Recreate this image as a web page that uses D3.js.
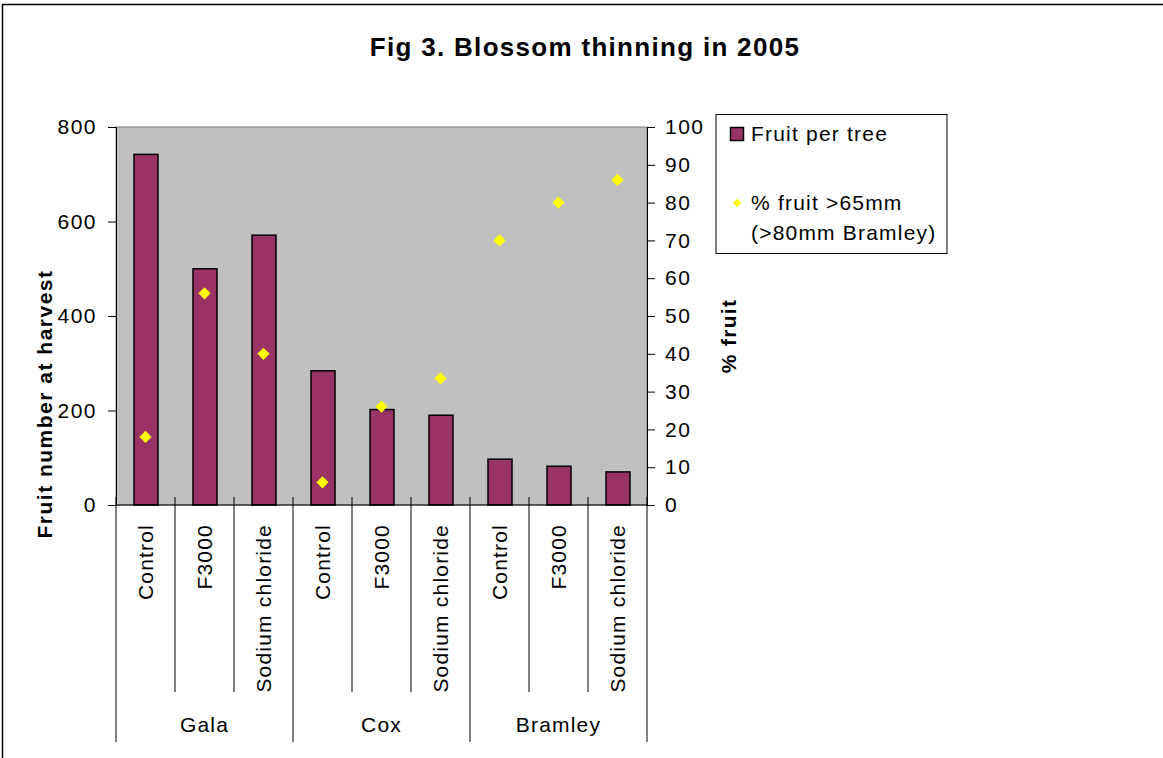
<!DOCTYPE html>
<html><head><meta charset="utf-8">
<script src="https://cdn.jsdelivr.net/npm/d3@7"></script>
<style>body{margin:0;background:#fff;}svg{display:block;font-family:"Liberation Sans",Arial,sans-serif;}</style>
</head><body>
<script>
const groups = ["Gala","Cox","Bramley"];
const treatments = ["Control","F3000","Sodium chloride"];
const fruitPerTree = [742, 500, 571, 284, 202, 190, 97, 82, 70];
const pctLarge = [18, 56, 40, 6, 26, 33.5, 70, 80, 86];
const leftTicks = [0,200,400,600,800];
const rightTicks = [0,10,20,30,40,50,60,70,80,90,100];

const W=1163,H=758;
const FS=21, LS=1.2;
const svg=d3.select("body").append("svg").attr("width",W).attr("height",H);
svg.append("rect").attr("x",2.5).attr("y",4.5).attr("width",W+10).attr("height",H+10).attr("fill","#fff").attr("stroke","#000").attr("stroke-width",1.5);

const L=116,R=647,T=127,B=505;
const cats=[];groups.forEach(g=>treatments.forEach(t=>cats.push(g+"|"+t)));
const x=d3.scaleBand().domain(cats).range([L,R]);
const y=d3.scaleLinear().domain([0,800]).range([B,T]);
const y2=d3.scaleLinear().domain([0,100]).range([B,T]);

svg.append("rect").attr("x",L).attr("y",T).attr("width",R-L).attr("height",B-T).attr("fill","#c0c0c0").attr("stroke","#808080").attr("stroke-width",1);

// bars
const bw=24;
svg.selectAll("rect.bar").data(fruitPerTree).enter().append("rect").attr("class","bar")
 .attr("x",(d,i)=>x(cats[i])+x.bandwidth()/2-bw/2+0.5).attr("y",d=>y(d))
 .attr("width",bw).attr("height",d=>B-y(d)).attr("fill","#993366").attr("stroke","#000").attr("stroke-width",1.5);

// left axis
const ga=svg.append("g").attr("transform",`translate(${L},0)`).call(d3.axisLeft(y).tickValues(leftTicks).tickSize(8).tickPadding(11));
ga.select(".domain").attr("stroke","#000");
ga.selectAll("text").attr("font-size",FS).attr("letter-spacing",1.5).attr("fill","#000").attr("font-family","Liberation Sans, Arial, sans-serif");
// right axis
const gb=svg.append("g").attr("transform",`translate(${R},0)`).call(d3.axisRight(y2).tickValues(rightTicks).tickSize(8).tickPadding(10));
gb.select(".domain").attr("stroke","#000");
gb.selectAll("text").attr("font-size",FS).attr("letter-spacing",1.5).attr("fill","#000").attr("font-family","Liberation Sans, Arial, sans-serif");

// baseline
svg.append("line").attr("x1",L).attr("x2",R).attr("y1",B).attr("y2",B).attr("stroke","#000");

// category separators
cats.forEach((c,i)=>{
  const xx=x(c);
  const isGroup=i%3===0;
  svg.append("line").attr("x1",xx).attr("x2",xx).attr("y1",B-8).attr("y2",isGroup?742:692).attr("stroke","#000");
});
svg.append("line").attr("x1",R).attr("x2",R).attr("y1",B-8).attr("y2",742).attr("stroke","#000");

// category labels
cats.forEach((c,i)=>{
  const cx=x(c)+x.bandwidth()/2;
  svg.append("text").attr("transform",`translate(${cx+7.5},524) rotate(-90)`).attr("text-anchor","end")
   .attr("font-size",FS).attr("letter-spacing",LS).text(treatments[i%3]);
});
groups.forEach((g,gi)=>{
  const x0=x(cats[gi*3]), x1=x(cats[gi*3+2])+x.bandwidth();
  svg.append("text").attr("x",(x0+x1)/2).attr("y",732).attr("text-anchor","middle").attr("font-size",FS).attr("letter-spacing",LS).text(g);
});

// diamonds
const dia=d3.symbol().type(d3.symbolDiamond2).size(95);
svg.selectAll("path.pt").data(pctLarge).enter().append("path").attr("class","pt")
 .attr("d",dia).attr("transform",(d,i)=>`translate(${x(cats[i])+x.bandwidth()/2},${y2(d)})`).attr("fill","#ffff00");

// titles
svg.append("text").attr("x",585).attr("y",56).attr("text-anchor","middle").attr("font-size",26).attr("letter-spacing",1.3).attr("font-weight","bold").text("Fig 3. Blossom thinning in 2005");
svg.append("text").attr("transform",`translate(52,404) rotate(-90)`).attr("text-anchor","middle").attr("font-size",FS).attr("letter-spacing",1.5).attr("font-weight","bold").text("Fruit number at harvest");
svg.append("text").attr("transform",`translate(736,336) rotate(-90)`).attr("text-anchor","middle").attr("font-size",FS).attr("letter-spacing",1.3).attr("font-weight","bold").text("% fruit");

// legend
svg.append("rect").attr("x",716).attr("y",114.5).attr("width",231).attr("height",139).attr("fill","#fff").attr("stroke","#000");
svg.append("rect").attr("x",730.5).attr("y",127.5).attr("width",13).attr("height",13).attr("fill","#993366").attr("stroke","#000").attr("stroke-width",1.5);
svg.append("text").attr("x",751).attr("y",141).attr("font-size",FS).attr("letter-spacing",LS).text("Fruit per tree");
svg.append("path").attr("d",d3.symbol().type(d3.symbolDiamond2).size(45)).attr("transform","translate(737,203)").attr("fill","#ffff00");
svg.append("text").attr("x",751).attr("y",210).attr("font-size",FS).attr("letter-spacing",LS).text("% fruit >65mm");
svg.append("text").attr("x",751).attr("y",240).attr("font-size",FS).attr("letter-spacing",LS).text("(>80mm Bramley)");
</script>
</body></html>
